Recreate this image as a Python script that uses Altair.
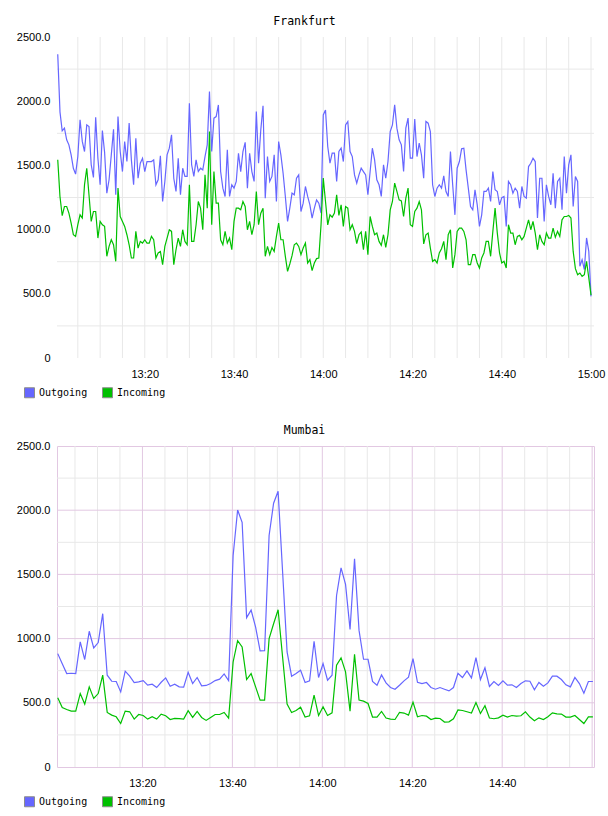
import altair as alt
import pandas as pd

# Frankfurt traffic, 30-second samples from 13:00:30 to 15:00:00
fra_start = "2024-05-06 13:00:30"
fra_step_s = 30
fra_outgoing = [
    2365, 1917, 1769, 1790, 1699, 1660, 1582, 1478, 1432, 1569,
    1855, 1687, 1608, 1816, 1803, 1505, 1406, 1875, 1556, 1349,
    1772, 1600, 1284, 1388, 1582, 1782, 1271, 1880, 1608, 1452,
    1686, 1530, 1829, 1543, 1349, 1712, 1400, 1517, 1556, 1452,
    1530, 1530, 1530, 1543, 1349, 1388, 1575, 1219, 1375, 1582,
    1634, 1738, 1400, 1297, 1556, 1271, 1478, 1414, 1414, 1984,
    1505, 1414, 1543, 1452, 1478, 1465, 1569, 1660, 2075, 1608,
    1868, 1880, 1971, 1452, 1323, 1258, 1621, 1258, 1349, 1323,
    1375, 1595, 1452, 1608, 1680, 1323, 1595, 1452, 1375, 1919,
    1517, 1777, 1965, 1245, 1569, 1375, 1414, 1582, 1219, 1686,
    1582, 1439, 1258, 1064, 1167, 1284, 1271, 1400, 1426, 1141,
    1206, 1336, 1258, 1193, 1090, 1167, 1232, 1206, 1128, 1893,
    1932, 1647, 1517, 1595, 1595, 1375, 1608, 1634, 1530, 1816,
    1842, 1608, 1569, 1426, 1362, 1426, 1478, 1452, 1426, 1271,
    1452, 1634, 1543, 1388, 1349, 1258, 1504, 1400, 1530, 1764,
    1816, 1971, 1790, 1699, 1660, 1452, 1790, 1868, 1556, 1556,
    1862, 1569, 1673, 1582, 1400, 1842, 1829, 1764, 1349, 1258,
    1323, 1349, 1323, 1419, 1297, 1258, 1608, 1349, 1115, 1478,
    1530, 1629, 1634, 1465, 1323, 1180, 1154, 1310, 1193, 1025,
    1115, 1297, 1297, 1323, 1219, 1452, 1310, 1297, 1193, 1249,
    1258, 1025, 1375, 1349, 1284, 1323, 1297, 1167, 1336, 1258,
    1245, 1491, 1517, 1556, 1530, 1090, 1400, 1400, 1064, 1349,
    1258, 1193, 1439, 1167, 1375, 1400, 1154, 1569, 1284, 1504,
    1582, 1180, 1414, 1375, 714, 766, 689, 935, 830, 480,
]
fra_incoming = [
    1544, 1258, 1108, 1180, 1180, 1128, 1050, 960, 947, 1038,
    1115, 1090, 1349, 1478, 1271, 1064, 1141, 1141, 934, 1064,
    1038, 1025, 792, 869, 921, 882, 753, 1323, 1102, 1064,
    1025, 960, 882, 779, 779, 986, 856, 908, 895, 921,
    895, 895, 947, 921, 779, 818, 830, 727, 869, 934,
    999, 986, 727, 843, 934, 869, 999, 908, 882, 1349,
    908, 908, 1038, 1219, 1167, 999, 1427, 1167, 1764, 1038,
    1452, 1206, 1206, 921, 882, 986, 895, 934, 843, 1064,
    1167, 1167, 1154, 1219, 1180, 999, 1064, 960, 1038, 1297,
    1038, 1128, 1167, 792, 869, 805, 861, 830, 947, 1050,
    921, 921, 792, 675, 732, 797, 882, 895, 869, 805,
    856, 895, 740, 766, 680, 740, 774, 779, 1038, 1401,
    1219, 1037, 1115, 1097, 1128, 1271, 1110, 1193, 1025, 1180,
    1167, 999, 1038, 986, 890, 960, 981, 843, 986, 805,
    1102, 1025, 960, 973, 908, 877, 960, 861, 960, 1154,
    1219, 1362, 1297, 1232, 1224, 1102, 1245, 1323, 1038, 1025,
    1141, 1167, 1219, 1154, 888, 960, 973, 856, 753, 766,
    740, 818, 851, 908, 766, 960, 999, 701, 805, 986,
    1012, 1012, 986, 921, 727, 727, 805, 805, 740, 701,
    779, 818, 908, 908, 792, 986, 1167, 973, 818, 740,
    753, 701, 1038, 973, 973, 882, 947, 955, 921, 947,
    1012, 1076, 999, 1064, 973, 843, 960, 908, 882, 973,
    934, 934, 1012, 940, 986, 947, 1076, 1102, 1102, 1110,
    1090, 830, 696, 649, 662, 636, 649, 753, 623, 490,
]

# Mumbai traffic, 1-minute samples from 13:01:10 to 15:00:10
mum_start = "2024-05-06 13:01:10"
mum_step_s = 60
mum_outgoing = [
    883, 805, 728, 730, 728, 974, 837, 1057, 927, 969,
    1194, 715, 668, 666, 585, 746, 707, 658, 663, 673,
    637, 645, 619, 660, 694, 629, 645, 624, 622, 738,
    650, 697, 632, 635, 650, 673, 684, 725, 673, 1647,
    2002, 1906, 1163, 1222, 1090, 904, 906, 1803, 2054, 2147,
    1520, 896, 707, 728, 754, 658, 671, 979, 697, 805,
    676, 715, 1336, 1551, 1422, 1072, 1621, 1064, 839, 839,
    666, 637, 717, 655, 619, 606, 637, 671, 699, 844,
    660, 650, 658, 619, 606, 619, 606, 593, 619, 730,
    697, 749, 694, 852, 681, 772, 627, 666, 635, 671,
    637, 640, 619, 650, 671, 668, 601, 658, 629, 655,
    707, 707, 681, 640, 624, 697, 650, 575, 666, 666,
]
mum_incoming = [
    539, 464, 448, 435, 435, 572, 490, 624, 534, 572,
    715, 425, 404, 391, 339, 435, 430, 373, 409, 401,
    373, 391, 373, 412, 399, 370, 378, 376, 373, 438,
    386, 433, 386, 363, 386, 409, 409, 425, 381, 818,
    984, 935, 681, 728, 624, 521, 521, 1000, 1116, 1225,
    857, 490, 425, 440, 466, 389, 399, 559, 401, 469,
    401, 422, 793, 850, 741, 435, 878, 521, 513, 495,
    389, 389, 433, 381, 373, 370, 425, 420, 404, 505,
    391, 401, 396, 370, 381, 378, 350, 352, 376, 445,
    440, 430, 420, 502, 417, 477, 381, 376, 383, 404,
    389, 401, 396, 399, 430, 389, 360, 383, 370, 391,
    422, 414, 412, 389, 389, 401, 370, 339, 391, 391,
]

series_names = ["Outgoing", "Incoming"]
series_colors = ["#6666ff", "#00c000"]
y_ticks = [0, 500, 1000, 1500, 2000, 2500]
y_major_grid = [500, 1000, 1500, 2000]
y_minor_grid = [250, 750, 1250, 1750, 2250]
fra_time_labels = ["13:20", "13:40", "14:00", "14:20", "14:40", "15:00"]
mum_time_labels = ["13:20", "13:40", "14:00", "14:20", "14:40"]
day = "2024-05-06"


def dt(hhmmss):
    h, m, *s = [int(p) for p in hhmmss.split(":")]
    return alt.DateTime(year=2024, month=5, date=6, hours=h, minutes=m,
                        seconds=s[0] if s else 0)


def traffic_frame(start, step_s, outgoing, incoming):
    t = pd.date_range(start, periods=len(outgoing), freq=f"{step_s}s")
    return pd.concat([
        pd.DataFrame({"time": t, "value": outgoing, "series": "Outgoing"}),
        pd.DataFrame({"time": t, "value": incoming, "series": "Incoming"}),
    ], ignore_index=True)


five_min = pd.date_range(f"{day} 13:05", f"{day} 15:00", freq="5min")
twenty_min = pd.date_range(f"{day} 13:20", f"{day} 15:00", freq="20min")
five_min_only = five_min[~five_min.isin(twenty_min)]

W, H = 537, 321
y_scale = alt.Scale(domain=[0, 2500], nice=False)
y_axis = alt.Axis(values=y_ticks, title=None,
                  labelExpr="datum.value == 0 ? '0' : format(datum.value, '.1f')",
                  labelPadding=7)

# Filled square swatches with a grey outline for the series key
legend = alt.Legend(
    title=None, orient="none", legendX=-33, legendY=350, direction="horizontal",
    symbolType="square", symbolSize=100, symbolOpacity=1,
    symbolStrokeColor="#8c8c8c", symbolStrokeWidth=1,
    labelFont="DejaVu Sans Mono", labelFontSize=10, labelColor="#000000",
    labelOffset=4, columnPadding=12,
)
color = alt.Color("series:N", sort=series_names,
                  scale=alt.Scale(domain=series_names, range=series_colors),
                  legend=legend)


def panel(title, df, x_domain, labels, vgrid_layers, hgrid_layers, border):
    x_scale = alt.Scale(domain=x_domain)
    x_axis = alt.Axis(values=[dt(v) for v in labels], format="%H:%M",
                      title=None, labelPadding=10, labelFlush=False)
    x_of = lambda f: alt.X(f, type="temporal", scale=x_scale, axis=x_axis)
    y_of = lambda f: alt.Y(f, type="quantitative", scale=y_scale, axis=y_axis)
    layers = []
    for values, col in vgrid_layers:
        layers.append(alt.Chart(pd.DataFrame({"time": values})).mark_rule(
            color=col, strokeWidth=1).encode(x=x_of("time")))
    for values, col in hgrid_layers:
        layers.append(alt.Chart(pd.DataFrame({"value": values})).mark_rule(
            color=col, strokeWidth=1).encode(y=y_of("value")))
    for name, col in zip(series_names, series_colors):
        layers.append(alt.Chart(df).transform_filter(
            alt.datum.series == name
        ).mark_line(color=col, strokeWidth=1.2).encode(
            x=x_of("time"), y=y_of("value"),
        ))
    # invisible swatch layer that carries the series key
    layers.append(alt.Chart(pd.DataFrame({"series": series_names})).mark_square(
        opacity=0, filled=True).encode(color=color))
    return alt.layer(*layers).properties(
        width=W, height=H,
        title=alt.TitleParams(title, font="DejaVu Sans Mono", fontSize=11.5,
                              fontWeight="normal", color="#000000",
                              anchor="middle", dx=-21, offset=4),
        view=alt.ViewBackground(stroke=border, strokeWidth=1),
    )


top = panel(
    "Frankfurt",
    traffic_frame(fra_start, fra_step_s, fra_outgoing, fra_incoming),
    [dt("13:00:20"), dt("15:00:40")],
    fra_time_labels,
    [(five_min, "#e8e8e8")],
    [(y_minor_grid, "#e8e8e8")],
    "transparent",
)
bottom = panel(
    "Mumbai",
    traffic_frame(mum_start, mum_step_s, mum_outgoing, mum_incoming),
    [dt("13:01:00"), dt("15:00:25")],
    mum_time_labels,
    [(five_min_only, "#e8e8e8"), (twenty_min, "#e2c8e2")],
    [(y_minor_grid, "#e8e8e8"), (y_major_grid, "#e2c8e2")],
    "#e2c8e2",
)

chart = alt.vconcat(top, bottom, spacing=23).resolve_scale(
    color="shared"
).resolve_legend(color="independent").properties(
    padding={"left": 15, "top": 15, "right": 0, "bottom": 0}
).configure_axis(
    labelFont="Liberation Sans", labelFontSize=11, labelColor="#000000",
    domain=False, ticks=False, grid=False,
)

chart.save("out.html", embed_options={"renderer": "svg", "actions": False})
